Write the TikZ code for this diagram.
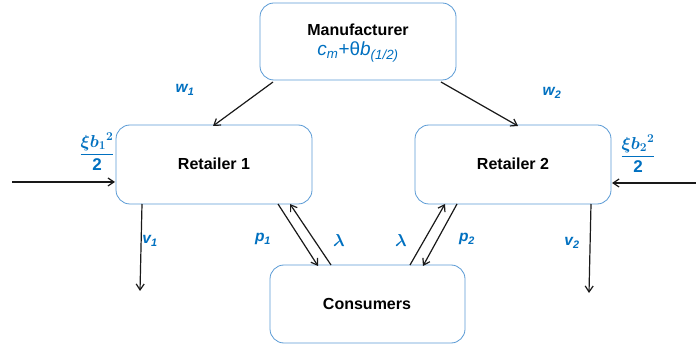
\documentclass[tikz,border=0pt]{standalone}
\usepackage{amsmath}
\usepackage{bm}
\usepackage{fontspec}
\setmainfont{Liberation Sans}
\usetikzlibrary{arrows.meta}
\definecolor{boxblue}{RGB}{91,155,213}
\definecolor{labblue}{RGB}{0,112,192}
\tikzset{
  agent/.style={draw=boxblue, line width=0.8pt, rounded corners=14pt, fill=white},
  flow/.style={draw=black!90, line width=1.2pt, -{Straight Barb[length=6pt,width=8pt]}},
  lab/.style={text=labblue, font=\bfseries\itshape\fontsize{15.5}{16}\selectfont, inner sep=0pt},
  greek/.style={text=labblue, inner sep=0pt, font=\fontsize{17}{17}\selectfont},
  title/.style={font=\bfseries\fontsize{16}{17}\selectfont, inner sep=0pt}
}
\begin{document}
\begin{tikzpicture}[x=1pt,y=-1pt]
\useasboundingbox (0,0) rectangle (696,347);

% agents
\draw[agent] (260,3) rectangle (456,80);
\node[title] (man) at (358,30) {Manufacturer};
\node[text=labblue, font=\fontsize{19}{20}\selectfont, inner sep=0pt] (cost) at (358,52) {\textit{c}\textsubscript{\textit{m}}+θ\textit{b}\textsubscript{\textit{(1/2)}}};
\coordinate (manL) at (273,82);
\coordinate (manR) at (441,82);

\draw[agent] (116,125) rectangle (312,204);
\node[title] (r1) at (214,164) {Retailer 1};

\draw[agent] (415,125) rectangle (611,204);
\node[title] (r2) at (513,164) {Retailer 2};

\draw[agent] (270,265) rectangle (465,343);
\node[title] (cons) at (367,304) {Consumers};

% anchor points on the box edges
\coordinate (r1top) at (213,126);
\coordinate (r2top) at (518,126);
\coordinate (r1left) at (115,182);
\coordinate (r2right) at (612,183);
\coordinate (inL) at (12,182);
\coordinate (inR) at (696,183);
\coordinate (r1v) at (142,204);
\coordinate (v1end) at (140,291);
\coordinate (r2v) at (591,204);
\coordinate (v2end) at (589,293);
\coordinate (r1p) at (278,204);
\coordinate (c1p) at (318,266);
\coordinate (c1l) at (331,265);
\coordinate (r1l) at (290,204);
\coordinate (c2l) at (410,265);
\coordinate (r2l) at (445,204);
\coordinate (r2p) at (457,204);
\coordinate (c2p) at (423,266);

% flows
\draw[flow] (manL) -- (r1top);
\draw[flow] (manR) -- (r2top);
\draw[flow] (inL) -- (r1left);
\draw[flow] (inR) -- (r2right);
\draw[flow] (r1v) -- (v1end);
\draw[flow] (r2v) -- (v2end);
\draw[flow] (r1p) -- (c1p);
\draw[flow] (c1l) -- (r1l);
\draw[flow] (c2l) -- (r2l);
\draw[flow] (r2p) -- (c2p);

% labels
\node[lab] (w1) at (185,90) {w\textsubscript{1}};
\node[lab] (w2) at (552,93) {w\textsubscript{2}};
\node[lab] (v1) at (150,241) {v\textsubscript{1}};
\node[lab] (v2) at (572,243) {v\textsubscript{2}};
\node[lab] (p1) at (263,239) {p\textsubscript{1}};
\node[lab] (p2) at (467,239) {p\textsubscript{2}};
\node[greek] (lam1) at (339,241) {$\bm{\lambda}$};
\node[greek] (lam2) at (401,241) {$\bm{\lambda}$};
\node[greek] (h1) at (97,152) {$\dfrac{\bm{\xi b_1{}^2}}{\mathbf{2}}$};
\node[greek] (h2) at (638,154) {$\dfrac{\bm{\xi b_2{}^2}}{\mathbf{2}}$};
\end{tikzpicture}
\end{document}
